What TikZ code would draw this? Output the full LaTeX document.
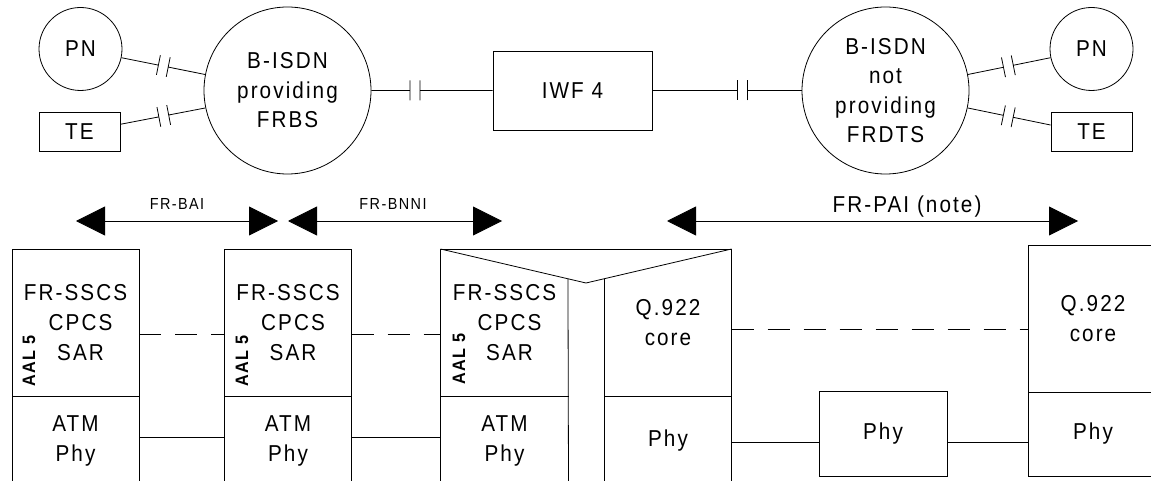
\documentclass[tikz,border=0pt]{standalone}
\usepackage{fontspec}
\setmainfont{Liberation Sans}[FakeStretch=0.9, LetterSpace=9]
\usetikzlibrary{positioning, arrows.meta, calc}

% line with a cut in it (from, to, where the cut sits)
\newcommand{\cutlink}[3]{%
  \coordinate (cA) at ($(#1)!#3!(#2)!5pt!(#1)$);
  \coordinate (cB) at ($(#1)!#3!(#2)!5pt!(#2)$);
  \draw[link] (#1) -- (cA) ($(cA)!10pt!90:(#2)$) -- ($(cA)!10pt!-90:(#2)$);
  \draw[link] (#2) -- (cB) ($(cB)!10pt!90:(#1)$) -- ($(cB)!10pt!-90:(#1)$);
}

\begin{document}
\begin{tikzpicture}[
    x=1pt, y=-1pt,
    every node/.style={font=\fontsize{23}{29.5}\selectfont},
    net/.style={
      circle, draw, line width=0.8pt,
      minimum size=167pt, inner sep=0pt, align=center,
    },
    user/.style={
      circle, draw, line width=0.8pt,
      minimum size=83pt, inner sep=0pt,
    },
    term/.style={
      draw, line width=0.8pt,
      minimum width=81pt, minimum height=39pt, inner sep=0pt,
    },
    iwfbox/.style={
      draw, line width=0.8pt,
      minimum width=159pt, minimum height=79pt, inner sep=0pt,
    },
    upper/.style={
      draw, line width=0.8pt, outer sep=0pt,
      minimum width=127pt, minimum height=147pt, inner sep=0pt,
      align=center, font=\fontsize{23}{30}\selectfont,
    },
    lower/.style={
      draw, line width=0.8pt, outer sep=0pt,
      minimum width=127pt, minimum height=89pt, inner sep=0pt,
      align=center, font=\fontsize{23}{30}\selectfont,
    },
    plain/.style={
      outer sep=0pt, inner sep=0pt, align=center,
      font=\fontsize{23}{30}\selectfont,
    },
    aal/.style={rotate=90, font=\fontsize{18}{18}\selectfont\bfseries},
    tag/.style={anchor=base, font=\fontsize{16}{16}\selectfont},
    link/.style={line width=0.8pt},
    peer/.style={line width=0.8pt, dash pattern=on 22pt off 14pt},
    span/.style={
      line width=0.8pt,
      {Triangle[length=29pt,width=29pt]}-{Triangle[length=29pt,width=29pt]},
    },
  ]
  \useasboundingbox (0,0) rectangle (1151,481);

  % networks
  \node[user] (pnL) at (80.5,49) {PN};
  \node[term] (teL) at (79.5,131.5) {TE};
  \node[net] (isdnL) at (287.5,90.5) {B-ISDN\\providing\\FRBS};
  \node[iwfbox] (iwf) at (572.5,90.5) {IWF 4};
  \node[net] (isdnR) at (885.5,90.5) {B-ISDN\\not\\providing\\FRDTS};
  \node[user] (pnR) at (1091.5,49) {PN};
  \node[term] (teR) at (1091.5,131.5) {TE};

  \cutlink{pnL.-12}{isdnL.169}{0.5}
  \cutlink{teL.10}{isdnL.192}{0.51}
  \cutlink{isdnL.east}{iwf.west}{0.36}
  \cutlink{iwf.east}{isdnR.west}{0.6}
  \cutlink{isdnR.11}{pnR.192}{0.49}
  \cutlink{isdnR.-12}{teR.171}{0.49}

  % interfaces
  \coordinate (bai1) at (76,221);
  \coordinate (bai2) at (278,221);
  \coordinate (bnni1) at (288,221);
  \coordinate (bnni2) at (502,221);
  \coordinate (pai1) at (667,221);
  \coordinate (pai2) at (1078,221);
  \draw[span] (bai1) -- (bai2);
  \draw[span] (bnni1) -- (bnni2);
  \draw[span] (pai1) -- (pai2);
  \node[tag] (baitag) at (177,210) {FR-BAI};
  \node[tag] (bnnitag) at (393,210) {FR-BNNI};
  \node[tag, font=\fontsize{23}{23}\selectfont] (paitag) at (907,212) {FR-PAI (note)};

  % protocol stacks
  \node[upper] (sc1) at (75.5,322.5) {FR-SSCS\\\hspace*{10pt}CPCS\\\hspace*{10pt}SAR};
  \node[lower, below=0pt of sc1] (ph1) {ATM\\Phy};
  \node[aal] (aal1) at (29,361) {AAL 5};

  \node[upper] (sc2) at (288,322.5) {FR-SSCS\\\hspace*{10pt}CPCS\\\hspace*{10pt}SAR};
  \node[lower, below=0pt of sc2] (ph2) {ATM\\Phy};
  \node[aal] (aal2) at (242,361) {AAL 5};

  \node[plain, minimum width=128pt, minimum height=147pt] (sc3) at (504.5,322.5) {FR-SSCS\\\hspace*{10pt}CPCS\\\hspace*{10pt}SAR};
  \node[plain, minimum width=128pt, minimum height=89pt, below=0pt of sc3] (ph3) {ATM\\Phy};
  \node[aal] (aal3) at (459,359) {AAL 5};
  \node[plain, minimum width=127pt, minimum height=147pt] (sc4) at (668,322.5) {Q.922\\core};
  \node[plain, minimum width=127pt, minimum height=89pt, below=0pt of sc4] (ph4) {Phy};
  \coordinate (vm) at (586,283);
  \draw[link] (ph3.south west) -- (sc3.north west) -- (sc4.north east) -- (ph4.south east);
  \draw[link] (sc3.north west) -- (vm) -- (sc4.north east);
  \draw[link] (ph3.south east) -- ($(sc3.north west)!0.876!(vm)$);
  \draw[link] (ph4.south west) -- ($(vm)!0.127!(sc4.north east)$);
  \draw[link] (ph3.north west) -- (ph3.north east) (ph4.north west) -- (ph4.north east);

  \node[draw, link, minimum width=128pt, minimum height=85pt, inner sep=0pt] (phy) at (883,433.5) {Phy};

  \node[upper, minimum width=130pt] (sc5) at (1093,318.5) {Q.922\\core};
  \node[lower, minimum width=130pt, minimum height=84pt, below=0pt of sc5] (ph5) {Phy};

  % peer and physical links
  \draw[peer] ([yshift=-11.5pt]sc1.east) -- ([yshift=-11.5pt]sc2.west);
  \draw[peer] ([yshift=-11.5pt]sc2.east) -- ([yshift=-11.5pt]sc3.west);
  \draw[peer] ([yshift=-6.5pt]sc4.east) -- ([yshift=-10.5pt]sc5.west);
  \draw[link] ([yshift=3.5pt]ph1.east) -- ([yshift=3.5pt]ph2.west);
  \draw[link] ([yshift=3.5pt]ph2.east) -- ([yshift=3.5pt]ph3.west);
  \draw[link] ([yshift=-1.5pt]ph4.east) -- ([yshift=-8.5pt]phy.west);
  \draw[link] ([yshift=-8.5pt]phy.east) -- ([yshift=-8pt]ph5.west);
\end{tikzpicture}
\end{document}
